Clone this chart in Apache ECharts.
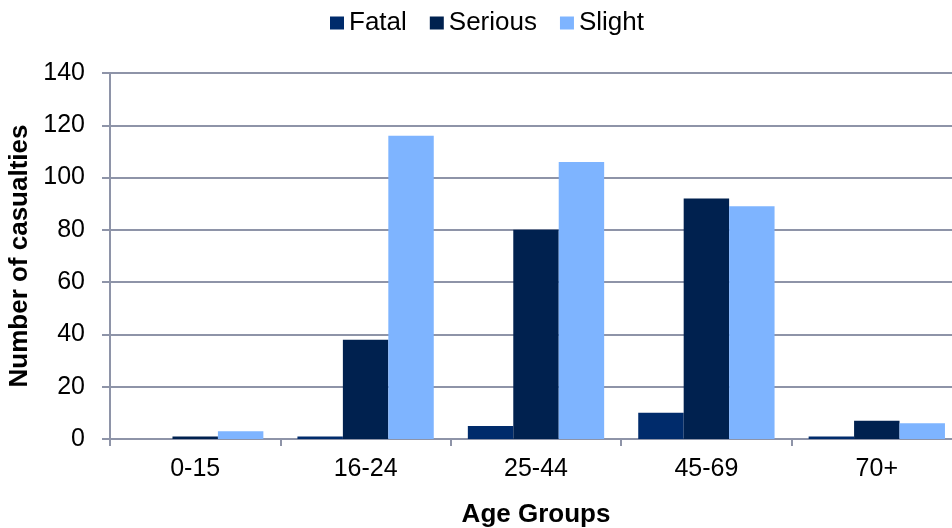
<!DOCTYPE html>
<html>
<head>
<meta charset="utf-8">
<script src="https://cdn.jsdelivr.net/npm/echarts@6/dist/echarts.min.js"></script>
<style>
  html, body { margin: 0; padding: 0; background: #fff; }
  #chart { width: 952px; height: 528px; }
</style>
</head>
<body>
<div id="chart"></div>
<script>
// Casualties by age group and severity
const ageGroups = ['0-15', '16-24', '25-44', '45-69', '70+'];
const fatal   = [0, 1, 5, 10, 1];
const serious = [1, 38, 80, 92, 7];
const slight  = [3, 116, 106, 89, 6];
const yTicks = { min: 0, max: 140, interval: 20 };

const axisGrey = '#8E94A8';
const fontFamily = '"Liberation Sans", Arial, sans-serif';

const chart = echarts.init(document.getElementById('chart'), null, { renderer: 'canvas' });

const barSeries = (name, data, color) => ({
  name: name,
  type: 'bar',
  data: data,
  barGap: '0%',
  barCategoryGap: '20%',
  itemStyle: { color: color },
  emphasis: { disabled: true }
});

chart.setOption({
  animation: false,
  textStyle: { fontFamily: fontFamily },
  legend: {
    left: 325,
    top: 5,
    icon: 'rect',
    itemWidth: 14,
    itemHeight: 13,
    itemGap: 23,
    textStyle: { fontSize: 26, color: '#000', fontFamily: fontFamily },
    data: ['Fatal', 'Serious', 'Slight']
  },
  grid: {
    left: 110, right: -10, top: 73, bottom: 89,
    containLabel: false,
    outerBoundsMode: 'none'
  },
  xAxis: {
    type: 'category',
    data: ageGroups,
    name: 'Age Groups',
    nameLocation: 'middle',
    nameGap: 63,
    nameTextStyle: { fontSize: 26, fontWeight: 'bold', color: '#000', fontFamily: fontFamily },
    axisLine: { lineStyle: { color: axisGrey, width: 2 } },
    axisTick: { show: true, length: 7, lineStyle: { color: axisGrey, width: 2 }, alignWithLabel: false },
    axisLabel: { fontSize: 25, color: '#000', margin: 18, fontFamily: fontFamily }
  },
  yAxis: {
    type: 'value',
    min: yTicks.min,
    max: yTicks.max,
    interval: yTicks.interval,
    name: 'Number of casualties',
    nameLocation: 'middle',
    nameGap: 77,
    nameRotate: 90,
    nameTextStyle: { fontSize: 26, fontWeight: 'bold', color: '#000', fontFamily: fontFamily },
    axisLine: { show: true, lineStyle: { color: axisGrey, width: 2 } },
    axisTick: { show: true, length: 8, lineStyle: { color: axisGrey, width: 2 } },
    axisLabel: { fontSize: 25, color: '#000', margin: 25, fontFamily: fontFamily },
    splitLine: { show: true, lineStyle: { color: axisGrey, width: 2 } }
  },
  series: [
    barSeries('Fatal', fatal, '#002B6B'),
    barSeries('Serious', serious, '#00214F'),
    barSeries('Slight', slight, '#7EB4FF')
  ]
});
</script>
</body>
</html>
